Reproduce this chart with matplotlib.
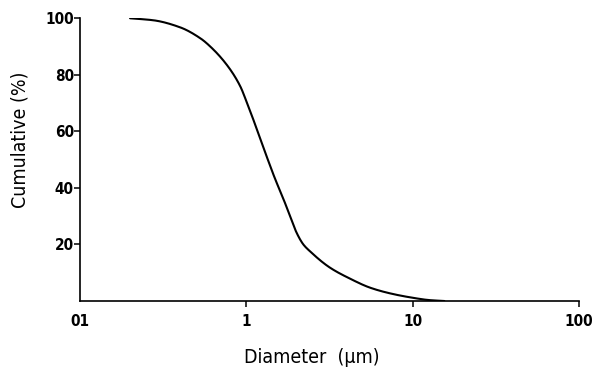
import numpy as np
import matplotlib
matplotlib.use("Agg")
import matplotlib.pyplot as plt

diameter = [0.2, 0.276, 0.4, 0.53, 0.605, 0.762, 0.917, 1.005, 1.1, 1.3, 1.488,
            1.67, 1.83, 2.01, 2.2, 2.42, 3.18, 4.2, 5.55, 7.31, 9.64, 12.7, 15.5]
cumulative = [99.9, 99.2, 96.7, 92.8, 90.0, 83.5, 76.0, 70.3, 64.2, 52.4, 43.2,
              36.1, 30.0, 24.0, 20.0, 17.5, 11.8, 7.9, 4.7, 2.7, 1.3, 0.3, 0.0]

x_ticks = [0.1, 1, 10, 100]
x_tick_labels = ["01", "1", "10", "100"]
y_ticks = [20, 40, 60, 80, 100]
y_tick_labels = ["20", "40", "60", "80", "100"]

plt.rcParams['font.family'] = ['DejaVu Sans']
plt.rcParams['font.stretch'] = 'condensed'
plt.rcParams['font.weight'] = 'bold'
plt.rcParams['axes.labelweight'] = 'normal'


def pchip(x, y, xn):
    x = np.asarray(x, float); y = np.asarray(y, float)
    h = np.diff(x); d = np.diff(y) / h
    m = np.zeros_like(x)
    for i in range(1, len(x) - 1):
        if d[i - 1] * d[i] > 0:
            w1 = 2 * h[i] + h[i - 1]; w2 = h[i] + 2 * h[i - 1]
            m[i] = (w1 + w2) / (w1 / d[i - 1] + w2 / d[i])
    m[0] = d[0]; m[-1] = d[-1]
    idx = np.clip(np.searchsorted(x, xn) - 1, 0, len(x) - 2)
    t = (xn - x[idx]) / h[idx]
    h00 = 2*t**3 - 3*t**2 + 1; h10 = t**3 - 2*t**2 + t
    h01 = -2*t**3 + 3*t**2; h11 = t**3 - t**2
    return h00*y[idx] + h10*h[idx]*m[idx] + h01*y[idx+1] + h11*h[idx]*m[idx+1]


fig = plt.figure(figsize=(6.02, 3.72), dpi=100)
ax = fig.add_axes([80/602, 1-301/372, 499/602, 283/372])

lx = np.log10(diameter)
xs = np.linspace(lx[0], lx[-1], 600)
ys = pchip(lx, cumulative, xs)
ax.plot(10**xs, ys, color='black', lw=1.5, solid_capstyle='round')

ax.set_xscale('log')
ax.set_xlim(0.1, 100)
ax.set_ylim(0, 100)
ax.set_xticks(x_ticks)
ax.set_xticklabels(x_tick_labels)
ax.xaxis.set_minor_locator(matplotlib.ticker.NullLocator())
ax.set_yticks(y_ticks)
ax.set_yticklabels(y_tick_labels)

for s in ['top', 'right']:
    ax.spines[s].set_visible(False)
for s in ['left', 'bottom']:
    ax.spines[s].set_linewidth(1.2)
    ax.spines[s].set_color('black')

ax.tick_params(axis='x', direction='out', length=4, width=1.1, labelsize=11, pad=5, colors='black')
ax.tick_params(axis='y', direction='out', length=4, width=1.1, labelsize=11, pad=0.5, colors='black')
ax.xaxis.get_major_ticks()[0].tick1line.set_visible(False)

ax.set_xlabel("Diameter  (μm)", fontsize=14, ha='center', va='center')
ax.set_ylabel("Cumulative (%)", fontsize=14, ha='center', va='center')
ax.xaxis.set_label_coords(0.465, -0.201)
ax.yaxis.set_label_coords(-0.120, 0.569)

fig.savefig("out.png", dpi=100)
